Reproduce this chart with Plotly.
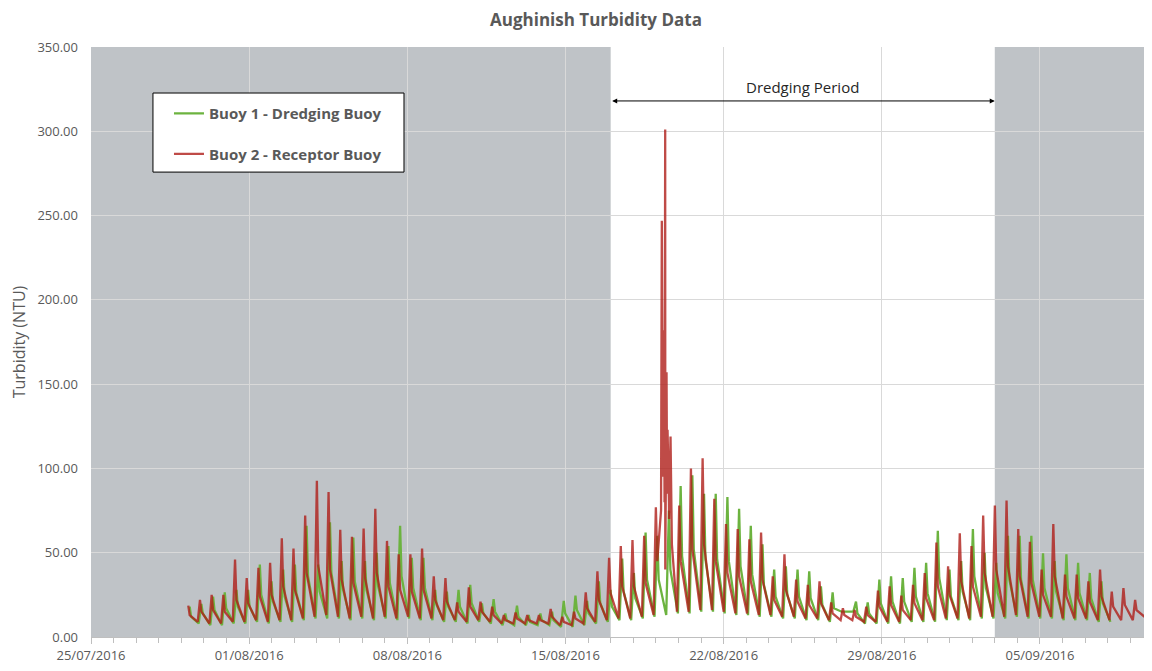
import pandas as pd
import plotly.graph_objects as go

# per semi-diurnal tide: peak, level just after the peak, and low water value
red_peaks = [18.6, 22, 25, 25, 46, 35, 41, 44, 58.5, 52.5,
             72, 92.7, 86, 63.6, 59.5, 64.4, 76, 57, 49, 49,
             52.5, 36, 35, 20.5, 29.5, 21, 18, 13, 14.6, 13,
             13, 16.6, 12, 15, 26.5, 39, 47, 54, 57.5, 60,
             77, 123, 78, 100, 106, 82, 67, 64, 58, 62,
             36, 49, 34, 31, 33, 20.5, 17, 16, 18, 27.5,
             30, 24.5, 31, 38, 56, 42, 61.5, 54, 72, 78,
             81, 64, 56.5, 40, 67, 37, 37, 33, 40, 27,
             29, 22]
red_shoulders = [13, 15, 16, 15, 22, 20, 24, 25, 30, 28,
                 38, 42, 40, 34, 32, 35, 38, 30, 28, 27,
                 28, 22, 21, 15, 18, 15, 13, 10, 11, 10,
                 10, 12, 9, 11, 17, 22, 26, 30, 30, 32,
                 45, 80, 45, 52, 55, 45, 38, 36, 33, 34,
                 22, 28, 21, 19, 20, 14, 13, 12, 13, 18,
                 19, 16, 20, 23, 30, 25, 33, 30, 38, 40,
                 42, 36, 32, 25, 36, 24, 23, 21, 24, 18,
                 19, 16]
red_troughs = [9, 8, 8, 9, 9, 10, 9, 10, 10, 11,
               12, 13, 12, 11, 12, 11, 12, 11, 12, 11,
               11, 10, 10, 9, 10, 9, 8, 8, 8, 8,
               8, 7, 7, 8, 9, 10, 11, 11, 12, 13,
               40, 15, 15, 16, 16, 15, 14, 14, 13, 13,
               12, 12, 11, 11, 10, 10, 10, 9, 9, 9,
               9, 10, 10, 10, 11, 11, 11, 12, 12, 12,
               13, 12, 12, 12, 11, 11, 11, 10, 10, 10,
               10, 12]
green_peaks = [18, 19.6, 24, 26.5, 28, 28, 43, 33, 40, 43,
               66, 43, 68, 45, 59, 45, 50, 54, 66, 47,
               47, 28, 27, 28, 31, 20, 22.5, 14, 18.6, 13,
               14, 15, 21.5, 24.5, 21.5, 33, 28, 46.5, 38, 62,
               60, 75, 89.5, 96, 85, 85, 83, 76, 66, 55,
               40, 42, 40, 39, 30, 26.5, 15, 21, 20.5, 34,
               36, 35, 41, 44, 63, 40, 45, 64, 50, 44,
               60, 60, 60, 49.6, 45, 49, 44, 38, 33]
green_shoulders = [12, 14, 16, 17, 18, 18, 25, 21, 24, 26,
                   36, 27, 38, 28, 33, 28, 30, 32, 36, 29,
                   29, 19, 18, 18, 20, 14, 15, 10, 12, 9,
                   10, 10, 14, 16, 14, 20, 18, 27, 23, 34,
                   34, 40, 48, 52, 46, 46, 45, 42, 37, 31,
                   24, 25, 24, 23, 19, 17, 15, 14, 14, 20,
                   21, 21, 24, 26, 35, 24, 27, 36, 29, 26,
                   34, 34, 34, 29, 27, 29, 26, 23, 20]
green_troughs = [8, 7, 7, 8, 8, 9, 8, 9, 9, 10,
                 11, 11, 11, 10, 11, 10, 11, 10, 11, 10,
                 10, 9, 9, 8, 9, 8, 7, 7, 7, 7,
                 7, 6, 6, 7, 8, 9, 10, 10, 11, 12,
                 13, 14, 14, 15, 15, 14, 13, 13, 12, 12,
                 11, 11, 10, 10, 9, 15, 15, 8, 8, 8,
                 8, 9, 9, 9, 10, 10, 10, 11, 11, 11,
                 12, 11, 11, 11, 10, 10, 10, 9, 9]

# storm event on the receptor buoy, 19/08
red_event_times = ["2016-08-19 05:30", "2016-08-19 06:20", "2016-08-19 07:20",
                   "2016-08-19 08:30", "2016-08-19 09:15", "2016-08-19 09:55",
                   "2016-08-19 10:40", "2016-08-19 11:20", "2016-08-19 11:55",
                   "2016-08-19 14:00", "2016-08-19 15:35", "2016-08-19 17:00"]
red_event_values = [75, 247, 95, 182, 80, 301, 90, 157, 85, 70, 119, 55]

cycle_start = "2016-07-29 07:20"
tide_period = "745min"
dredge_start = "2016-08-17"
dredge_end = "2016-09-03"
x_start = "2016-07-25"
x_end = "2016-09-09 23:00"

GREY = "#595959"
FONT = "Open Sans"


def tidal_series(peaks, shoulders, troughs, lags):
    cycles = pd.date_range(cycle_start, periods=len(peaks), freq=tide_period)
    parts = []
    for vals, lag in zip([peaks, shoulders, troughs], lags):
        parts.append(pd.DataFrame({"t": cycles + pd.Timedelta(lag), "v": vals}))
    return pd.concat(parts).sort_values("t")


green = tidal_series(green_peaks, green_shoulders, green_troughs, ["1h30min", "3h", "11h"])
red = tidal_series(red_peaks, red_shoulders, red_troughs, ["0h", "1h30min", "10h"])
red = pd.concat([
    red,
    pd.DataFrame({"t": pd.to_datetime(red_event_times), "v": red_event_values}),
]).sort_values("t")

fig = go.Figure()
fig.add_trace(
    go.Scatter(
        x=green["t"],
        y=green["v"],
        mode="lines",
        name="Buoy 1 - Dredging Buoy",
        legendgroup="b1",
        line=dict(color="#6CB33F", width=2.3),
    )
)
fig.add_trace(
    go.Scatter(
        x=red["t"],
        y=red["v"],
        mode="lines",
        name="Buoy 2 - Receptor Buoy",
        legendgroup="b2",
        line=dict(color="rgba(175,30,25,0.8)", width=2.3),
    )
)

# grey shading outside the dredging window
for x0, x1 in [(x_start, dredge_start), (dredge_end, "2016-09-12")]:
    fig.add_shape(
        type="rect", xref="x", yref="paper", x0=x0, x1=x1, y0=0, y1=1,
        fillcolor="#BFC3C7", line=dict(width=0), layer="below",
    )

# legend frame
fig.add_shape(
    type="rect", xref="paper", yref="paper",
    x0=0.0584, x1=0.295, y0=0.788, y1=0.922,
    fillcolor="white", line=dict(color="black", width=1), layer="above",
)

fig.add_annotation(
    x="2016-08-25 12:00", y=326, text="Dredging Period", showarrow=False,
    font=dict(family=FONT, size=15, color="#262626"),
)
fig.add_annotation(
    x=dredge_end, y=318, ax=dredge_start, ay=318, axref="x", ayref="y",
    text="", showarrow=True, arrowside="end+start", arrowhead=2,
    arrowsize=1, arrowwidth=1, arrowcolor="black", standoff=0, startstandoff=0,
)

# the page adds an 8px body margin, so the figure is 8px smaller than the window
fig.update_layout(
    width=1144,
    height=663,
    margin=dict(l=83, r=0, t=39, b=34),
    paper_bgcolor="white",
    plot_bgcolor="white",
    font=dict(family=FONT, color=GREY),
    title=dict(
        text="Aughinish Turbidity Data",
        x=0.514, xref="container", xanchor="center",
        y=1, yref="container", yanchor="top",
        pad=dict(t=6),
        font=dict(family=FONT, size=17, color=GREY, weight="bold"),
    ),
    legend=dict(
        x=0.0735, y=0.915, xanchor="left", yanchor="top",
        bgcolor="rgba(0,0,0,0)", borderwidth=0,
        traceorder="grouped", tracegroupgap=18,
        font=dict(family=FONT, size=15, color=GREY, weight="bold"),
    ),
    showlegend=True,
)

fig.update_xaxes(
    type="date",
    range=[x_start, x_end],
    tick0=x_start,
    dtick=7 * 86400000,
    tickformat="%d/%m/%Y",
    ticks="outside",
    ticklen=6,
    tickcolor="#BFBFBF",
    showline=True,
    linecolor="#BFBFBF",
    showgrid=True,
    gridcolor="#D9D9D9",
    gridwidth=1,
    tickfont=dict(family=FONT, size=13, color=GREY),
    minor=dict(dtick=86400000, ticks="outside", ticklen=5, tickcolor="#BFBFBF", showgrid=False),
)
fig.update_yaxes(
    range=[0, 350],
    dtick=50,
    tickformat=".2f",
    showgrid=True,
    gridcolor="#D9D9D9",
    gridwidth=1,
    zeroline=False,
    ticks="",
    ticklabelstandoff=12,
    tickfont=dict(family=FONT, size=13, color=GREY),
    title=dict(text="Turbidity (NTU)", standoff=12, font=dict(family=FONT, size=16, color=GREY)),
)

fig.write_html("out.html")
